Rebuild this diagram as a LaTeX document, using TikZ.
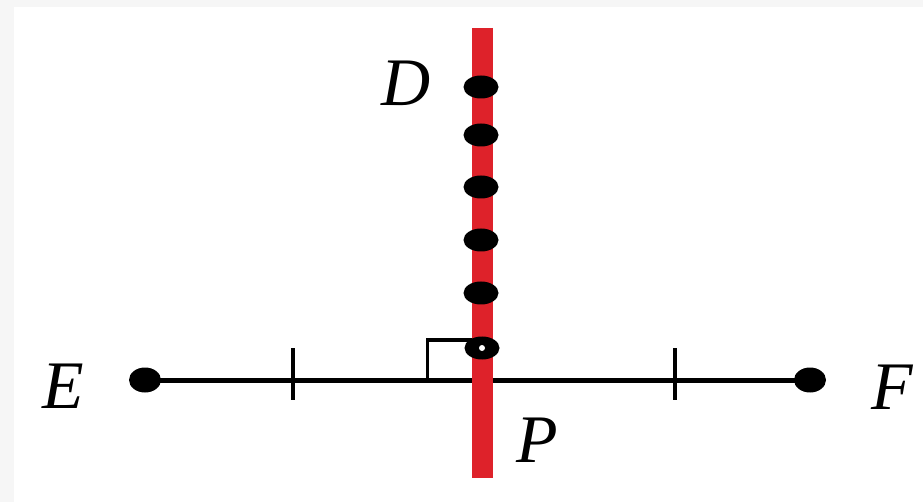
\documentclass[tikz,border=0pt]{standalone}
\usepackage{fontspec}
\setmainfont{Liberation Serif}
\usetikzlibrary{shapes.geometric}
\definecolor{barred}{RGB}{222,34,42}
\definecolor{edgegray}{RGB}{246,246,246}
\begin{document}
\begin{tikzpicture}[x=1pt,y=-1pt,
  dot/.style={ellipse, fill=black, inner sep=0pt, minimum width=35pt, minimum height=23pt},
  enddot/.style={ellipse, fill=black, inner sep=0pt, minimum width=32pt, minimum height=25pt},
  lbl/.style={font=\fontsize{68}{68}\selectfont\itshape, inner sep=0pt},
  segline/.style={line width=5pt},
  tickline/.style={line width=4pt},
  rightmark/.style={line width=3pt},
  bar/.style={barred, line width=21pt}]
\fill[edgegray] (0,0) rectangle (923,502);
\fill[white] (14,7) rectangle (923,502);
\useasboundingbox (0,0) rectangle (923,502);
% end points
\node[enddot] (E) at (145,380) {};
\node[enddot] (F) at (810,380) {};
% labels
\node[lbl] (lE) at (63,386) {E};
\node[lbl] (lF) at (892,387) {F};
\node[lbl] (lD) at (406,83) {D};
\node[lbl] (lP) at (537,440) {P};
% segment EF
\draw[segline] (E.center) -- (F.center);
% ticks
\coordinate (t1a) at (293,348); \coordinate (t1b) at (293,400);
\coordinate (t2a) at (675,348); \coordinate (t2b) at (675,400);
\draw[tickline] (t1a) -- (t1b);
\draw[tickline] (t2a) -- (t2b);
% right angle mark
\coordinate (ra1) at (427,380); \coordinate (ra2) at (427,340); \coordinate (ra3) at (474,340);
\draw[rightmark] (ra1) -- (ra2) -- (ra3);
% perpendicular bisector
\coordinate (bt) at (482,28); \coordinate (bb) at (482,478);
\draw[bar] (bt) -- (bb);
% points on bisector
\node[dot] (d1) at (481,87) {};
\node[dot] (d2) at (481,135) {};
\node[dot] (d3) at (481,187) {};
\node[dot] (d4) at (481,240) {};
\node[dot] (d5) at (481,293) {};
\node[dot] (d6) at (482,348) {};
\fill[white] (d6.center) circle (3pt);
\end{tikzpicture}
\end{document}
